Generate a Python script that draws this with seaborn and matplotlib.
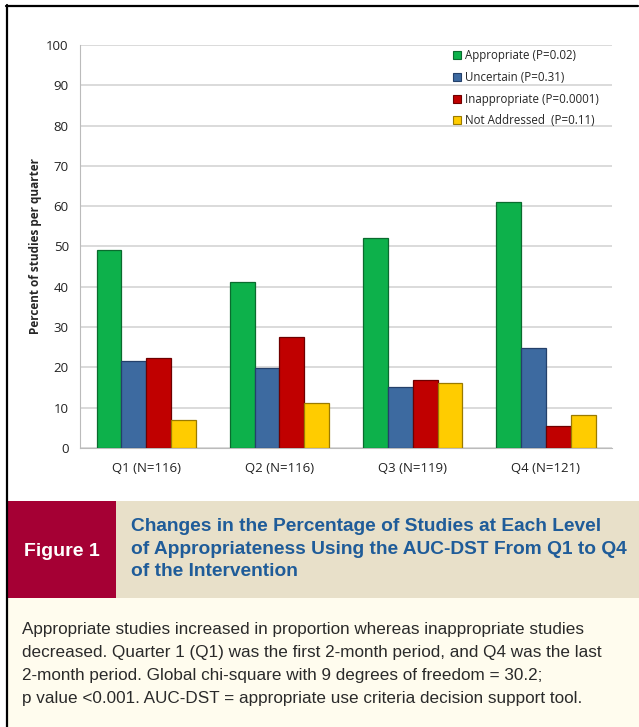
import matplotlib
matplotlib.use("Agg")
import matplotlib.pyplot as plt
import seaborn as sns
import pandas as pd
from matplotlib.patches import Rectangle
from matplotlib.lines import Line2D

# data
quarters = ["Q1 (N=116)", "Q2 (N=116)", "Q3 (N=119)", "Q4 (N=121)"]
levels = ["Appropriate (P=0.02)", "Uncertain (P=0.31)",
          "Inappropriate (P=0.0001)", "Not Addressed  (P=0.11)"]
appropriate = [49.0, 41.2, 52.0, 61.0]
uncertain = [21.5, 19.8, 15.0, 24.9]
inappropriate = [22.2, 27.5, 16.8, 5.5]
not_addressed = [7.0, 11.2, 16.0, 8.1]
yticks = [0, 10, 20, 30, 40, 50, 60, 70, 80, 90, 100]

colors = ["#0db14b", "#3d6aa0", "#c00000", "#ffcc00"]
edges = ["#0a6b2e", "#24406a", "#6e0000", "#9a7a00"]

rows = []
for lev, vals in zip(levels, [appropriate, uncertain, inappropriate, not_addressed]):
    for q, v in zip(quarters, vals):
        rows.append({"quarter": q, "level": lev, "pct": v})
df = pd.DataFrame(rows)

sns.set_style("white")
plt.rcParams["font.family"] = ["Open Sans", "DejaVu Sans"]

fig = plt.figure(figsize=(6.39, 7.27), dpi=100)
ax = fig.add_axes([0.125, 0.384, 0.833, 0.554])

sns.barplot(data=df, x="quarter", y="pct", hue="level", order=quarters,
            hue_order=levels, palette=colors, width=0.75, gap=0,
            saturation=1, ax=ax, zorder=3)

# dark outlines for the 3d-ish look
for cont, ec in zip(ax.containers, edges):
    for bar in cont:
        bar.set_edgecolor(ec)
        bar.set_linewidth(0.9)

ax.set_ylim(0, 100)
ax.set_xlim(-0.5, 3.5)
ax.set_yticks(yticks)
ax.set_yticklabels([str(t) for t in yticks], fontsize=9.5, color="#222222")
ax.yaxis.grid(True, color="#d4d4d4", linewidth=1.2, zorder=0)
ax.set_axisbelow(True)
for s in ["top", "right"]:
    ax.spines[s].set_visible(False)
ax.spines["left"].set_color("#bbbbbb")
ax.spines["bottom"].set_color("#bbbbbb")
ax.tick_params(axis="x", length=0, pad=10, labelsize=9.5, labelcolor="#222222")
ax.tick_params(axis="y", length=0, pad=8)
# tick marks between groups
ax.set_xticks([0, 1, 2, 3], minor=False)
ax.set_xticks([-0.5, 0.5, 1.5, 2.5, 3.5], minor=True)
ax.tick_params(axis="x", which="minor", length=5, color="#bbbbbb", direction="out")
ax.set_xlabel("")
ax.set_ylabel("Percent of studies per quarter", fontsize=8.5, fontweight="bold",
              labelpad=3)

handles = [Rectangle((0, 0), 1, 1, facecolor=c, edgecolor=e, linewidth=0.8)
           for c, e in zip(colors, edges)]
ax.legend(handles, levels, loc="upper right", bbox_to_anchor=(0.995, 1.015),
          frameon=False, fontsize=8.3, handlelength=0.7, handleheight=0.7,
          handletextpad=0.4, labelspacing=0.75)

# outer frame lines (left and top)
fig.add_artist(Line2D([6.5 / 639, 6.5 / 639], [0, 1 - 5 / 727], color="black",
                      lw=1.6, transform=fig.transFigure))
fig.add_artist(Line2D([6 / 639, 638 / 639], [1 - 5.5 / 727, 1 - 5.5 / 727],
                      color="black", lw=1.6, transform=fig.transFigure))

# caption band
def fx(px):
    return px / 639

def fy(py):
    return 1 - py / 727

fig.add_artist(Rectangle((fx(8), fy(598)), fx(108), 97 / 727,
                         facecolor="#a50034", edgecolor="none",
                         transform=fig.transFigure))
fig.add_artist(Rectangle((fx(116), fy(598)), fx(523), 97 / 727,
                         facecolor="#e8e0c9", edgecolor="none",
                         transform=fig.transFigure))
fig.add_artist(Rectangle((fx(8), 0), fx(631), fy(598),
                         facecolor="#fffcee", edgecolor="none",
                         transform=fig.transFigure))

fig.text(fx(62), fy(551), "Figure 1", color="white", fontsize=14,
         fontweight="bold", ha="center", va="center",
         family=["Liberation Sans", "DejaVu Sans"])
title = ("Changes in the Percentage of Studies at Each Level\n"
         "of Appropriateness Using the AUC-DST From Q1 to Q4\n"
         "of the Intervention")
fig.text(fx(131), fy(549), title, color="#1f5c99", fontsize=13.8,
         fontweight="bold", ha="left", va="center", linespacing=1.46,
         family=["Liberation Sans", "DejaVu Sans"])

body = ("Appropriate studies increased in proportion whereas inappropriate studies\n"
        "decreased. Quarter 1 (Q1) was the first 2-month period, and Q4 was the last\n"
        "2-month period. Global chi-square with 9 degrees of freedom = 30.2;\n"
        "p value <0.001. AUC-DST = appropriate use criteria decision support tool.")
fig.text(fx(22), fy(664), body, color="#2a2a2a", fontsize=12.3,
         ha="left", va="center", linespacing=1.68,
         family=["Liberation Sans", "DejaVu Sans"])

fig.savefig("out.png", dpi=100)
